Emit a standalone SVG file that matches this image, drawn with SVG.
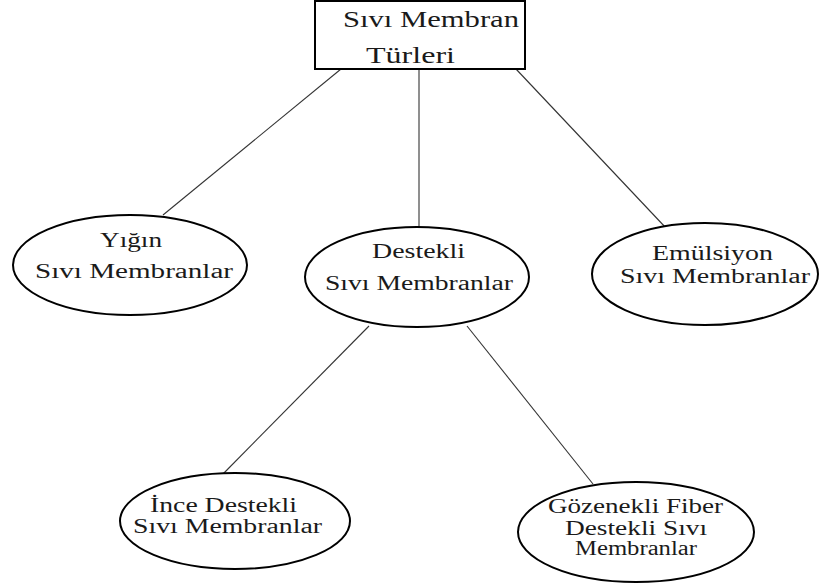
<svg xmlns="http://www.w3.org/2000/svg" width="819" height="585" viewBox="0 0 819 585">
<style>
text{font-family:"Liberation Serif","Times New Roman",serif;font-size:20px;fill:#1a1a1a}
.big{font-size:24px}
.node ellipse{fill:#fff;stroke:#000;stroke-width:2}
.node rect{fill:#fff;stroke:#000;stroke-width:2}
.edges line{stroke:#333;stroke-width:1.1}
</style>
<rect width="819" height="585" fill="#fff"/>
<g class="edges">
<line x1="341" y1="69" x2="163" y2="215"/>
<line x1="419" y1="69" x2="419" y2="227"/>
<line x1="516" y1="69" x2="666" y2="228"/>
<line x1="369" y1="326" x2="222" y2="475"/>
<line x1="467" y1="326" x2="593" y2="484"/>
</g>
<g id="root" class="node">
<rect x="315" y="1" width="210" height="68"/>
<text class="big" x="343" y="27" textLength="176" lengthAdjust="spacingAndGlyphs">Sıvı Membran</text>
<text class="big" x="366" y="63" textLength="89" lengthAdjust="spacingAndGlyphs">Türleri</text>
</g>
<g id="yigin" class="node">
<ellipse cx="130" cy="265" rx="117" ry="50"/>
<text x="100" y="247" textLength="62" lengthAdjust="spacingAndGlyphs">Yığın</text>
<text x="35" y="278" textLength="198" lengthAdjust="spacingAndGlyphs">Sıvı Membranlar</text>
</g>
<g id="destekli" class="node">
<ellipse cx="417" cy="277" rx="112" ry="50"/>
<text x="372" y="258" textLength="93" lengthAdjust="spacingAndGlyphs">Destekli</text>
<text x="325" y="290" textLength="188" lengthAdjust="spacingAndGlyphs">Sıvı Membranlar</text>
</g>
<g id="emulsiyon" class="node">
<ellipse cx="705" cy="274" rx="113" ry="51"/>
<text x="652" y="260" textLength="121" lengthAdjust="spacingAndGlyphs">Emülsiyon</text>
<text x="620" y="283" textLength="190" lengthAdjust="spacingAndGlyphs">Sıvı Membranlar</text>
</g>
<g id="ince" class="node">
<ellipse cx="235" cy="521" rx="115" ry="48"/>
<text x="150" y="512" textLength="147" lengthAdjust="spacingAndGlyphs">İnce Destekli</text>
<text x="133" y="533" textLength="189" lengthAdjust="spacingAndGlyphs">Sıvı Membranlar</text>
</g>
<g id="gozenekli" class="node">
<ellipse cx="636" cy="532" rx="118" ry="50"/>
<text x="548" y="513" textLength="175" lengthAdjust="spacingAndGlyphs">Gözenekli Fiber</text>
<text x="565" y="535" textLength="142" lengthAdjust="spacingAndGlyphs">Destekli Sıvı</text>
<text x="575" y="555" textLength="122" lengthAdjust="spacingAndGlyphs">Membranlar</text>
</g>
</svg>
